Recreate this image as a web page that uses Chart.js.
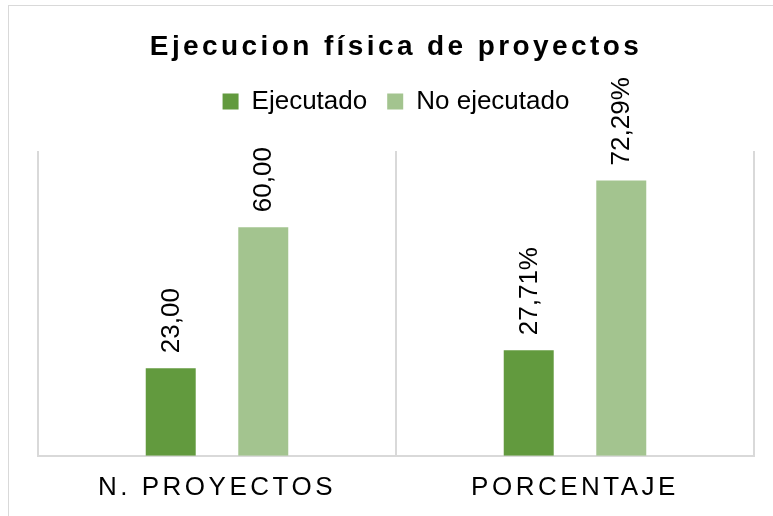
<!DOCTYPE html>
<html>
<head>
<meta charset="utf-8">
<script src="https://cdn.jsdelivr.net/npm/chart.js@4/dist/chart.umd.min.js"></script>
<style>
  html, body { margin: 0; padding: 0; background: #fff; overflow: hidden; }
  #frame { position: absolute; left: 8px; top: 5px; width: 800px; height: 600px; border: 1px solid #d9d9d9; }
  #chart { position: absolute; left: 0; top: 0; }
</style>
</head>
<body>
<div id="frame"></div>
<canvas id="chart" width="773" height="516"></canvas>
<script>
// Datos
const categories = ['N. PROYECTOS', 'PORCENTAJE'];
const ejecutado = [23.00, 27.71];
const noEjecutado = [60.00, 72.29];
const labelSuffix = ['', '%'];
const yMax = 80;

const FONT = '"Liberation Sans", Arial, sans-serif';
Chart.defaults.color = '#000';
Chart.defaults.font.family = FONT;

// envuelve un metodo de dibujo para aplicar espaciado entre letras
function spaced(obj, method, px) {
    const orig = obj[method];
    obj[method] = function (...args) {
        const ctx = this.ctx;
        ctx.save();
        ctx.letterSpacing = px + 'px';
        orig.apply(this, args);
        ctx.restore();
    };
}

// espacio vacio entre la leyenda y el area del grafico
const spacer = {
    id: 'spacer',
    beforeInit(chart) {
        Chart.layouts.addBox(chart, {
            position: 'top',
            weight: -1,
            fullSize: true,
            options: {},
            left: 0, top: 0, right: 0, bottom: 0, width: 0, height: 0,
            isHorizontal: () => true,
            update(maxWidth) { this.width = maxWidth; this.height = 26.4; },
            draw() {}
        });
    },
    beforeDraw(chart) {
        if (!chart.$spaced) {
            spaced(chart.titleBlock, 'draw', 3.4);
            spaced(chart.scales.x, 'drawLabels', 3.5);
            chart.$spaced = true;
        }
    }
};

// etiquetas de valor giradas sobre cada barra
const valueLabels = {
    id: 'valueLabels',
    afterDatasetsDraw(chart) {
        const ctx = chart.ctx;
        ctx.save();
        ctx.font = '26px ' + FONT;
        ctx.fillStyle = '#000';
        ctx.textAlign = 'left';
        ctx.textBaseline = 'middle';
        chart.data.datasets.forEach((ds, di) => {
            chart.getDatasetMeta(di).data.forEach((bar, i) => {
                const txt = ds.data[i].toFixed(2).replace('.', ',') + labelSuffix[i];
                ctx.save();
                ctx.translate(bar.x + 1, bar.y - 15);
                ctx.rotate(-Math.PI / 2);
                ctx.fillText(txt, 0, 0);
                ctx.restore();
            });
        });
        ctx.restore();
    }
};

new Chart(document.getElementById('chart'), {
    type: 'bar',
    data: {
        labels: categories,
        datasets: [
            { label: 'Ejecutado', data: ejecutado, backgroundColor: '#629a3e' },
            { label: 'No ejecutado', data: noEjecutado, backgroundColor: '#a3c48f' }
        ]
    },
    options: {
        responsive: false,
        animation: false,
        devicePixelRatio: 1,
        categoryPercentage: 0.517,
        barPercentage: 0.54,
        layout: { padding: { top: 2, left: 38, right: 19, bottom: -3 } },
        plugins: {
            title: {
                display: true,
                text: 'Ejecucion física de proyectos',
                font: { size: 28, weight: 'bold', family: FONT },
                color: '#000',
                padding: { top: 28, bottom: 5 }
            },
            legend: {
                labels: {
                    font: { size: 26, family: FONT },
                    color: '#000',
                    boxWidth: 16,
                    boxHeight: 16,
                    padding: 20
                }
            },
            tooltip: { enabled: false }
        },
        scales: {
            x: {
                grid: { display: true, offset: true, color: '#d9d9d9', lineWidth: 2, drawTicks: false },
                border: { display: true, color: '#d9d9d9', width: 2 },
                ticks: { font: { size: 26, family: FONT }, color: '#000', padding: 16, maxRotation: 0 }
            },
            y: {
                display: false,
                min: 0,
                max: yMax
            }
        }
    },
    plugins: [spacer, valueLabels]
});
</script>
</body>
</html>
